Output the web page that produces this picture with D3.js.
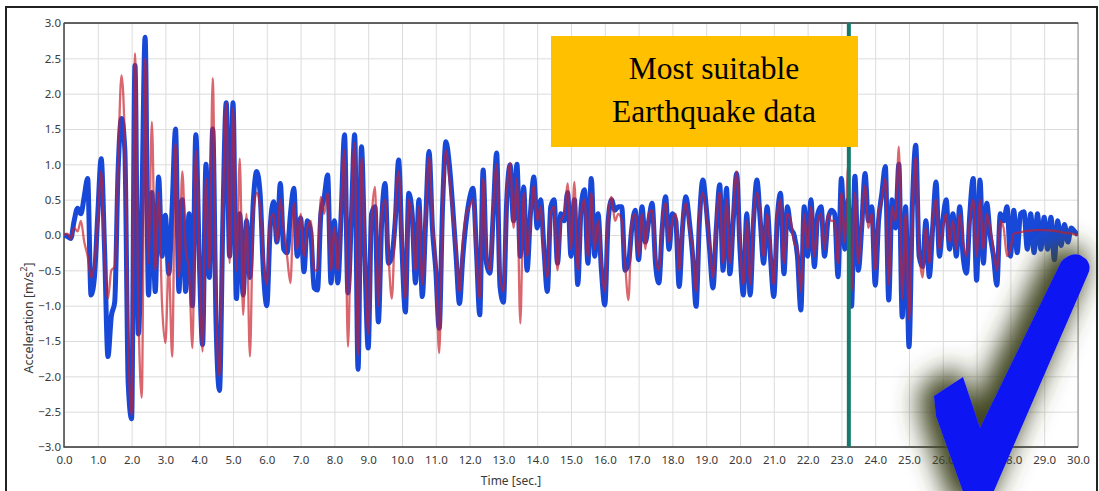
<!DOCTYPE html>
<html>
<head>
<meta charset="utf-8">
<script src="https://cdn.jsdelivr.net/npm/d3@7"></script>
<style>
  body { margin: 0; background: #fff; }
  .grid line { stroke: #dcdcdc; stroke-width: 1; }
  .grid path { display: none; }
  .lbl text { font-family: "Noto Sans", "Open Sans", sans-serif; font-size: 11.5px; fill: #3a3a3a; }
  .lbl path { display: none; }
</style>
</head>
<body>
<script>
var width = 1099,
    height = 491,
    margin = {top: 23, right: 21, bottom: 44, left: 64},
    innerW = width - margin.left - margin.right,
    innerH = height - margin.top - margin.bottom;

// sampling step of both records [sec.]
var dt = 0.1;

// blue record, one value per 0.1 s [m/s2]
var blueAcc = [
  0, -0.02, -0.05, 0.2, 0.38, 0.3, 0.55, 0.8, -0.85, -0.6,
  0.3, 1.08, -0.2, -1.72, -1.15, -0.95, 0.9, 1.65, 1.2, -2.1,
  -2.6, 2.4, -1.4, 0.3, 2.8, -0.85, 0.6, -0.8, 0.82, -0.3,
  0.28, -0.55, 0.4, 1.5, -0.8, 0.5, -0.8, 0.3, -1.0, 1.42,
  -0.3, -1.55, 1.0, -0.6, 1.5, -1.27, -2.2, 0.2, 1.87, -0.3,
  1.87, -0.9, 0.3, -0.85, 0.2, -0.6, 0.47, 0.9, 0.6, -0.52,
  -1.0, 0.1, 0.47, -0.1, 0.73, -0.2, -0.25, 0.3, 0.66, -0.3,
  0.24, -0.52, 0.2, 0.05, -0.75, -0.78, 0.3, 0.54, 0.85, -0.68,
  0.2, -0.68, 0.3, 1.42, -0.82, 0.2, 1.42, -1.9, 1.25, -0.3,
  -1.6, 0.3, 0.4, -1.23, 0.2, 0.73, -0.4, -0.3, 0.2, 1.06,
  -0.2, -1.09, 0.59, 0.3, -0.68, 0.5, -0.87, 0.2, 1.18, 0.1,
  -0.5, -1.32, 0.4, 1.32, 1.0, 0.4, -0.3, -0.97, -0.3, 0.2,
  0.52, 0.66, -0.2, -1.13, 0.92, -0.4, -0.54, 0.3, 1.16, -0.73,
  -0.95, 0.5, 0.99, 0.2, 1.0, -0.3, 0.68, -0.5, 0.3, 0.82,
  0.1, 0.5, -0.2, -0.8, 0.4, 0.5, -0.4, 0.3, 0.2, 0.6,
  -0.3, 0.5, -0.7, 0.4, 0.64, -0.4, 0.8, -0.3, 0.3, -0.5,
  -0.99, 0.2, 0.5, 0.35, 0.4, 0.4, -0.5, -0.4, 0.1, 0.35,
  -0.35, 0.4, -0.1, 0.2, 0.45, -0.4, -0.68, 0.1, 0.54, -0.2,
  0.3, 0.2, -0.73, 0.1, 0.54, 0.2, -0.3, -1.01, 0.2, 0.78,
  0.4, -0.2, -0.75, 0.1, 0.71, -0.5, 0.66, -0.55, 0.2, 0.87,
  -0.2, -0.85, 0.3, -0.85, 0.2, 0.78, 0.2, -0.4, 0.4, -0.3,
  -0.87, 0.2, 0.59, -0.55, 0.4, 0.1, 0.0, -0.3, -1.06, 0.4,
  -0.3, 0.5, -0.45, 0.3, 0.4, -0.3, 0.2, 0.35, 0.3, -0.59,
  0.8, -0.2, 0.5, -1.01, 0.83, -0.5, 0.1, 0.87, 0.2, 0.4,
  -0.71, 0.2, 0.6, 0.97, -0.92, 0.5, 0.1, 1.0, -1.16, 0.4,
  -1.58, 0.4, 1.27, -0.3, -0.45, 0.2, -0.59, 0.1, 0.75, -0.3,
  0.2, 0.5, -0.2, 0.3, -0.3, 0.4, -0.3, -0.54, 0.3, 0.8,
  -0.64, 0.78, -0.4, 0.45, 0.0, -0.3, -0.71, 0.3, 0.2, 0.4,
  -0.3, 0.35, -0.25, 0.3, 0.33, -0.2, 0.3, -0.25, 0.3, -0.2,
  0.25, -0.2, 0.25, -0.35, 0.2, -0.15, 0.15, -0.1, 0.1, 0.05,
  0
];

// red record, same sampling
var redAcc = [
  0, 0.02, -0.05, 0.1, 0.05, 0.2, -0.1, -0.3, -0.6, -0.4,
  0.2, 0.9, -0.3, -0.9, -0.5, -0.45, 1.0, 2.26, 1.3, -1.5,
  -2.55, 2.57, -1.0, -2.3, 2.5, -0.4, 1.6, -0.5, 0.6, -0.97,
  -1.53, -0.4, -1.72, 1.3, -0.6, 0.9, -0.2, -0.5, -1.6, 1.2,
  -0.2, -1.65, 0.8, -0.5, 2.22, -1.0, -2.0, 0.3, 1.87, -0.4,
  1.8, -0.5, 1.08, -1.13, 0.3, -1.72, 0.3, 0.6, 0.4, -0.3,
  -0.7, 0.2, 0.3, -0.1, 0.5, 0.1, -0.3, -0.68, 0.45, -0.2,
  0.3, -0.3, 0.1, 0.2, -0.5, -0.5, 0.54, 0.3, 0.6, -0.5,
  0.1, -0.5, 0.4, 1.2, -1.58, 0.3, 1.3, -1.7, 1.1, -0.2,
  -1.4, 0.2, 0.68, -1.0, 0.3, 0.5, -0.3, -0.9, 0.3, 0.9,
  -0.1, -0.9, 0.5, 0.2, -0.5, 0.4, -0.7, 0.3, 1.1, 0.2,
  -0.4, -1.67, 0.3, 1.2, 0.8, 0.3, -0.2, -0.8, -0.1, 0.3,
  0.4, 0.5, -0.3, -0.9, 0.8, -0.3, -0.5, 0.4, 1.0, -0.6,
  -0.8, 0.6, 1.02, 0.1, 0.8, -1.25, 0.6, -0.3, 0.2, 0.7,
  0.2, 0.4, -0.3, -0.6, 0.3, 0.4, -0.5, 0.2, 0.3, 0.73,
  -0.2, 0.75, -0.5, 0.3, 0.5, -0.3, 0.6, -0.2, 0.2, -0.4,
  -0.8, 0.3, 0.54, 0.2, 0.3, 0.2, -0.4, -0.92, 0.2, 0.3,
  -0.3, 0.3, -0.2, 0.3, 0.35, -0.3, -0.5, 0.2, 0.45, -0.1,
  0.2, 0.3, -0.5, 0.2, 0.45, 0.1, -0.2, -0.8, 0.3, 0.6,
  0.3, -0.1, -0.6, 0.2, 0.6, -0.4, 0.5, -0.4, 0.3, 0.9,
  -0.1, -0.7, 0.2, -0.7, 0.3, 0.6, 0.3, -0.3, 0.3, -0.2,
  -0.7, 0.3, 0.5, -0.4, 0.3, 0.2, -0.1, -0.2, -0.8, 0.3,
  -0.2, 0.4, -0.3, 0.2, 0.3, -0.2, 0.3, 0.2, 0.2, -0.4,
  0.6, -0.1, 0.98, -0.8, 0.6, -0.4, 0.2, 0.7, 0.1, 0.3,
  -0.5, 0.3, 0.5, 0.8, -0.7, 0.4, 0.2, 1.25, -0.9, 0.3,
  -1.2, 0.3, 1.1, -0.2, -0.6, 0.1, -0.4, 0.2, 0.5, -0.2,
  0.1, 0.3, -0.1, 0.2, -0.2, 0.3, -0.1, -0.3, 0.2, 0.5,
  -0.3, 0.5, -0.2, 0.3, 0.1, -0.2, -0.5, 0.2, 0.1, -0.3,
  -0.2, 0.02, 0.03, 0.04, 0.05, 0.06, 0.06, 0.07, 0.07, 0.07,
  0.07, 0.07, 0.06, 0.06, 0.05, 0.04, 0.03, 0.03, 0.02, 0.01,
  0
];

var xTickValues = d3.range(0, 31);
var yTickValues = [-3, -2.5, -2, -1.5, -1, -0.5, 0, 0.5, 1, 1.5, 2, 2.5, 3];
var markerTime = 23.22;
var noteLines = ["Most suitable", "Earthquake data"];

var x = d3.scaleLinear().domain([0, 30]).range([0, innerW]),
    y = d3.scaleLinear().domain([-3, 3]).range([innerH, 0]);

var svg = d3.select("body")
  .append("svg")
    .attr("width", width)
    .attr("height", height);

// outer frame of the picture (open at the bottom)
svg.append("path")
  .attr("d", "M6,495 L6,7 L1097,7 L1097,495")
  .attr("fill", "none")
  .attr("stroke", "#222")
  .attr("stroke-width", 2);

var defs = svg.append("defs");
defs.append("clipPath").attr("id", "plotclip")
  .append("rect").attr("width", innerW).attr("height", innerH);

var shadow = defs.append("filter").attr("id", "glow")
  .attr("x", "-60%").attr("y", "-60%").attr("width", "220%").attr("height", "220%");
shadow.append("feMorphology").attr("in", "SourceAlpha").attr("operator", "dilate").attr("radius", 6).attr("result", "d");
shadow.append("feGaussianBlur").attr("in", "d").attr("stdDeviation", 13).attr("result", "b");
shadow.append("feOffset").attr("in", "b").attr("dx", -9).attr("dy", -2).attr("result", "o");
shadow.append("feFlood").attr("flood-color", "#3f4420").attr("flood-opacity", 1);
shadow.append("feComposite").attr("in2", "o").attr("operator", "in").attr("result", "s");
var fm = shadow.append("feMerge");
fm.append("feMergeNode").attr("in", "s");
fm.append("feMergeNode").attr("in", "SourceGraphic");

var g = svg.append("g")
  .attr("transform", "translate(" + margin.left + "," + margin.top + ")");

// grid
g.append("g")
  .attr("class", "grid")
  .attr("transform", "translate(0," + innerH + ")")
  .call(d3.axisBottom(x).tickValues(xTickValues).tickSize(-innerH).tickFormat(""));

g.append("g")
  .attr("class", "grid")
  .call(d3.axisLeft(y).tickValues(yTickValues).tickSize(-innerW).tickFormat(""));

// tick labels
g.append("g")
  .attr("class", "lbl")
  .attr("transform", "translate(0," + innerH + ")")
  .call(d3.axisBottom(x).tickValues(xTickValues).tickSize(0).tickPadding(9).tickFormat(d3.format(".1f")));

g.append("g")
  .attr("class", "lbl")
  .call(d3.axisLeft(y).tickValues(yTickValues).tickSize(0).tickPadding(3).tickFormat(d3.format(".1f")));

// plot frame
g.append("rect")
  .attr("width", innerW)
  .attr("height", innerH)
  .attr("fill", "none")
  .attr("stroke", "#8a8a8a")
  .attr("stroke-width", 1);
g.append("path")
  .attr("d", "M0,0 L" + innerW + ",0 M0,0 L0," + innerH + " L" + innerW + "," + innerH)
  .attr("fill", "none")
  .attr("stroke", "#444")
  .attr("stroke-width", 1.3);

// records
var line = d3.line()
  .curve(d3.curveMonotoneX)
  .x(function(d, i) { return x(i * dt); })
  .y(function(d) { return y(d); });

var plot = g.append("g").attr("clip-path", "url(#plotclip)");

plot.append("path")
  .datum(blueAcc)
  .attr("fill", "none")
  .attr("stroke", "#1848d8")
  .attr("stroke-width", 5)
  .attr("stroke-linejoin", "round")
  .attr("d", line);

plot.append("path")
  .datum(redAcc)
  .attr("fill", "none")
  .attr("stroke", "#c81e2a")
  .attr("stroke-opacity", 0.68)
  .attr("stroke-width", 2.3)
  .attr("d", line);

// marker line
g.append("line")
  .attr("x1", x(markerTime)).attr("x2", x(markerTime))
  .attr("y1", 0).attr("y2", innerH)
  .attr("stroke", "#17786c")
  .attr("stroke-width", 4);

// axis titles
svg.append("text")
  .attr("x", 511)
  .attr("y", 485)
  .attr("text-anchor", "middle")
  .style("font-family", "'Noto Sans', sans-serif")
  .style("font-size", "12px")
  .style("fill", "#3a3a3a")
  .text("Time [sec.]");

var yt = svg.append("text")
  .attr("transform", "translate(33,318) rotate(-90)")
  .attr("text-anchor", "middle")
  .style("font-family", "'Noto Sans', sans-serif")
  .style("font-size", "12.5px")
  .style("fill", "#3a3a3a");
yt.append("tspan").text("Acceleration [m/s");
yt.append("tspan").attr("baseline-shift", "super").style("font-size", "9px").text("2");
yt.append("tspan").text("]");

// note box
svg.append("rect")
  .attr("x", 551).attr("y", 36)
  .attr("width", 307).attr("height", 111)
  .attr("fill", "#ffc000");

svg.selectAll(".note")
  .data(noteLines)
  .enter()
  .append("text")
  .attr("class", "note")
  .attr("x", 714)
  .attr("y", function(d, i) { return 79 + i * 43; })
  .attr("text-anchor", "middle")
  .style("font-family", "'Liberation Serif', 'Times New Roman', serif")
  .style("font-size", "31.5px")
  .style("fill", "#000")
  .text(function(d) { return d; });

// check mark
svg.append("path")
  .attr("d", "M934,396 L963,377 L980,428 L1061,262 Q1070,252 1080,255 L1086,259 Q1092,266 1088,274 L990,500 L966,500 L936,416 Z")
  .attr("fill", "#0d12f2")
  .attr("filter", "url(#glow)");
</script>
</body>
</html>
